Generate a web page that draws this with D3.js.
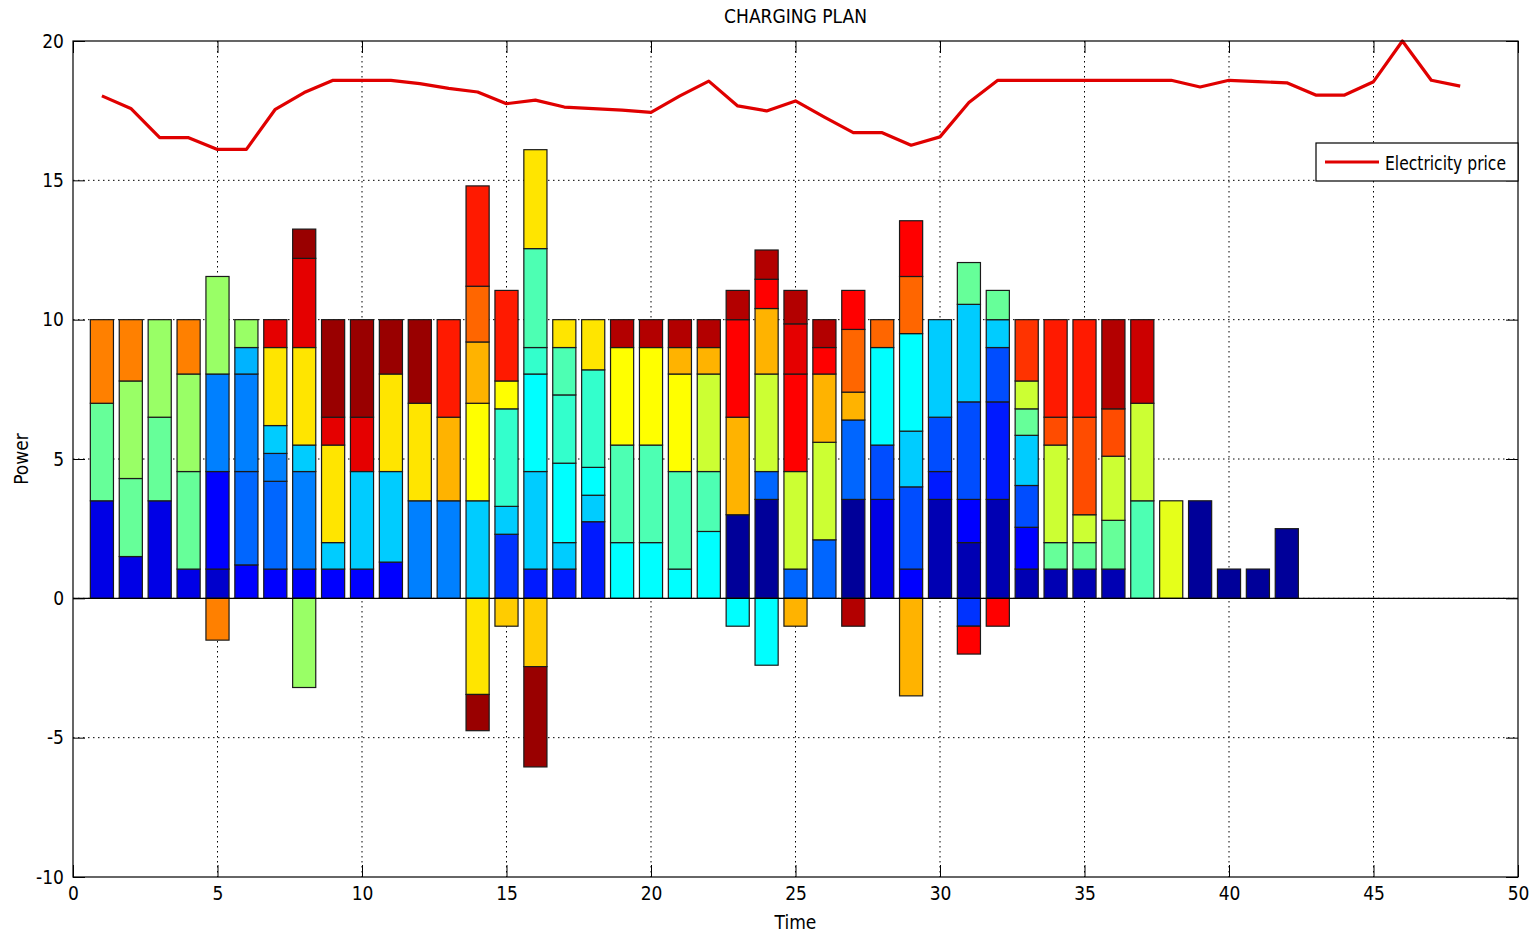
<!DOCTYPE html>
<html>
<head>
<meta charset="utf-8">
<script src="https://cdn.jsdelivr.net/npm/d3@7"></script>
<style>
  body { margin: 0; background: #fff; }
  text { font-family: "Liberation Sans Narrow", "DejaVu Sans Condensed", "Liberation Sans", Arial, sans-serif; fill: #000; }
</style>
</head>
<body>
<svg id="chart" width="1530" height="934"></svg>
<script>
// Time slots that carry bars, and the price curve slots
const barTimes = [1,2,3,4,5,6,7,8,9,10,11,12,13,14,15,16,17,18,19,20,21,
  22,23,24,25,26,27,28,29,30,31,32,33,34,35,36,37,38,39,40,41,42];
const priceTimes = [1,2,3,4,5,6,7,8,9,10,11,12,13,14,15,16,17,18,19,20,21,22,23,24,
  25,26,27,28,29,30,31,32,33,34,35,36,37,38,39,40,41,42,43,44,45,46,47,48];
const price = [18.03,17.58,16.53,16.53,16.11,16.11,17.55,18.15,18.59,18.59,
  18.59,18.47,18.3,18.17,17.75,17.88,17.63,17.57,17.52,17.44,
  18.03,18.56,17.67,17.49,17.85,17.27,16.71,16.71,16.26,16.56,
  17.79,18.59,18.59,18.59,18.59,18.59,18.59,18.59,18.35,18.59,
  18.54,18.5,18.06,18.06,18.54,20.0,18.59,18.38];

// Per time slot: [vehicle index (0..40, jet colour), power]
const positive = [
  [[4,3.5],[19,3.5],[30,3.0]],
  [[4,1.5],[19,2.8],[21,3.5],[30,2.2]],
  [[4,3.5],[19,3.0],[21,3.5]],
  [[4,1.05],[19,3.5],[21,3.5],[30,1.95]],
  [[3,1.05],[5,3.5],[10,3.5],[21,3.5]],
  [[5,1.2],[9,3.35],[10,3.5],[12,0.95],[21,1.0]],
  [[5,1.05],[9,3.15],[10,1.0],[13,1.0],[26,2.8],[36,1.0]],
  [[5,1.05],[10,3.5],[13,0.95],[26,3.5],[36,3.2],[39,1.05]],
  [[5,1.05],[13,0.95],[26,3.5],[36,1.0],[39,3.5]],
  [[5,1.05],[13,3.5],[36,1.95],[39,3.5]],
  [[5,1.3],[13,3.25],[26,3.5],[39,1.95]],
  [[10,3.5],[26,3.5],[39,3.0]],
  [[10,3.5],[28,3.0],[34,3.5]],
  [[13,3.5],[25,3.5],[28,2.2],[31,2.0],[34,3.6]],
  [[7,2.3],[13,1.0],[17,3.5],[25,1.0],[34,3.25]],
  [[6,1.05],[13,3.5],[15,3.5],[17,0.95],[18,3.55],[26,3.55]],
  [[6,1.05],[13,0.95],[15,2.85],[17,2.45],[18,1.7],[26,1.0]],
  [[6,2.75],[13,0.95],[15,1.0],[17,3.5],[26,1.8]],
  [[15,2.0],[18,3.5],[25,3.5],[38,1.0]],
  [[15,2.0],[18,3.5],[25,3.5],[38,1.0]],
  [[15,1.05],[18,3.5],[25,3.5],[28,0.95],[38,1.0]],
  [[15,2.4],[18,2.15],[23,3.5],[28,0.95],[38,1.0]],
  [[1,3.0],[28,3.5],[35,3.5],[38,1.05]],
  [[1,3.55],[9,1.0],[23,3.5],[28,2.35],[35,1.05],[38,1.05]],
  [[9,1.05],[23,3.5],[35,3.5],[36,1.8],[38,1.2]],
  [[9,2.1],[23,3.5],[28,2.45],[35,0.95],[38,1.0]],
  [[1,3.55],[9,2.85],[28,1.0],[31,2.25],[35,1.4]],
  [[4,3.55],[8,1.95],[15,3.5],[31,1.0]],
  [[5,1.05],[8,2.95],[13,2.0],[15,3.5],[31,2.05],[35,2.0]],
  [[2,3.55],[6,1.0],[8,1.95],[13,3.5]],
  [[2,2.0],[5,1.55],[8,3.5],[13,3.5],[19,1.5]],
  [[2,3.55],[6,3.5],[8,1.95],[13,1.0],[19,1.05]],
  [[2,1.05],[5,1.5],[8,1.5],[13,1.8],[19,0.95],[23,1.0],[33,2.2]],
  [[2,1.05],[19,0.95],[23,3.5],[32,1.0],[34,3.5]],
  [[2,1.05],[19,0.95],[23,1.0],[32,3.5],[34,3.5]],
  [[2,1.05],[19,1.75],[23,2.3],[32,1.7],[38,3.2]],
  [[18,3.5],[23,3.5],[37,3.0]],
  [[24,3.5]],
  [[1,3.5]],
  [[1,1.05]],
  [[1,1.05]],
  [[1,2.5]]
];
const negative = [
  [],[],[],[],
  [[30,-1.5]],
  [],[],
  [[21,-3.2]],
  [],[],[],[],[],
  [[26,-3.45],[39,-1.3]],
  [[27,-1.0]],
  [[27,-2.45],[39,-3.6]],
  [],[],[],[],[],[],
  [[15,-1.0]],
  [[15,-2.4]],
  [[28,-1.0]],
  [],
  [[38,-1.0]],
  [],
  [[28,-3.5]],
  [],
  [[7,-1.0],[35,-1.0]],
  [[35,-1.0]],
  [],[],[],[],[],[],[],[],[],[]
];

const xTicks = [0,5,10,15,20,25,30,35,40,45,50];
const yTicks = [-10,-5,0,5,10,15,20];

// MATLAB jet colormap
function jet(i) {
  const t = i / 40;
  const c = v => Math.round(255 * Math.max(0, Math.min(1, v)));
  return d3.rgb(c(1.5 - Math.abs(4 * t - 3)), c(1.5 - Math.abs(4 * t - 2)), c(1.5 - Math.abs(4 * t - 1)));
}

const svg = d3.select("#chart");
const pl = 73, pr = 1518, pt = 41, pb = 877;
const x = d3.scaleLinear().domain([0, 50]).range([pl, pr]);
const y = d3.scaleLinear().domain([-10, 20]).range([pb, pt]);

// grid
const grid = svg.append("g")
  .attr("stroke", "#000").attr("stroke-width", 1).attr("stroke-dasharray", "1.5,3.5");
grid.selectAll(".gx").data(xTicks.slice(1, -1)).enter().append("line")
  .attr("x1", d => x(d)).attr("x2", d => x(d)).attr("y1", pt).attr("y2", pb);
grid.selectAll(".gy").data(yTicks.slice(1, -1)).enter().append("line")
  .attr("y1", d => y(d)).attr("y2", d => y(d)).attr("x1", pl).attr("x2", pr);

// stacked bars
const barW = x(0.8) - x(0);
const rects = [];
barTimes.forEach((t, i) => {
  let acc = 0;
  positive[i].forEach(([k, v]) => { rects.push({ t, k, y0: acc, y1: acc + v }); acc += v; });
  acc = 0;
  negative[i].forEach(([k, v]) => { rects.push({ t, k, y0: acc, y1: acc + v }); acc += v; });
});
svg.append("g").selectAll("rect").data(rects).enter().append("rect")
  .attr("x", d => x(d.t) - barW / 2)
  .attr("width", barW)
  .attr("y", d => y(Math.max(d.y0, d.y1)))
  .attr("height", d => Math.abs(y(d.y0) - y(d.y1)))
  .attr("fill", d => jet(d.k))
  .attr("stroke", "#1a1a1a").attr("stroke-width", 1.2);

// baseline
svg.append("line").attr("x1", pl).attr("x2", pr).attr("y1", y(0)).attr("y2", y(0))
  .attr("stroke", "#000").attr("stroke-width", 1.2);

// price line
svg.append("path")
  .datum(priceTimes.map((t, i) => [t, price[i]]))
  .attr("fill", "none").attr("stroke", "#e00000").attr("stroke-width", 3.2)
  .attr("stroke-linejoin", "round")
  .attr("d", d3.line().x(d => x(d[0])).y(d => y(d[1])));

// axes (ticks inside, MATLAB style)
const fs = "19px";
const plain = d => String(d);
svg.append("g").attr("transform", `translate(0,${pb})`)
  .call(d3.axisBottom(x).tickValues(xTicks).tickFormat(plain).tickSizeInner(-12).tickSizeOuter(0).tickPadding(10))
  .call(g => g.select(".domain").remove())
  .call(g => g.selectAll("text").attr("font-size", fs).attr("font-family", null));
svg.append("g").attr("transform", `translate(0,${pt})`)
  .call(d3.axisTop(x).tickValues(xTicks).tickSizeInner(-12).tickSizeOuter(0).tickFormat(""))
  .call(g => g.select(".domain").remove());
svg.append("g").attr("transform", `translate(${pl},0)`)
  .call(d3.axisLeft(y).tickValues(yTicks).tickFormat(plain).tickSizeInner(-12).tickSizeOuter(0).tickPadding(9))
  .call(g => g.select(".domain").remove())
  .call(g => g.selectAll("text").attr("font-size", fs).attr("font-family", null));
svg.append("g").attr("transform", `translate(${pr},0)`)
  .call(d3.axisRight(y).tickValues(yTicks).tickSizeInner(-12).tickSizeOuter(0).tickFormat(""))
  .call(g => g.select(".domain").remove());
svg.append("rect").attr("x", pl).attr("y", pt).attr("width", pr - pl).attr("height", pb - pt)
  .attr("fill", "none").attr("stroke", "#000").attr("stroke-width", 1.2);

// labels
svg.append("text").attr("x", (pl + pr) / 2).attr("y", 23).attr("text-anchor", "middle")
  .attr("font-size", "19px").text("CHARGING PLAN");
svg.append("text").attr("x", (pl + pr) / 2).attr("y", 929).attr("text-anchor", "middle")
  .attr("font-size", "19px").text("Time");
svg.append("text").attr("transform", `translate(28,${(pt + pb) / 2}) rotate(-90)`)
  .attr("text-anchor", "middle").attr("font-size", "19px").text("Power");

// legend
const lg = svg.append("g");
lg.append("rect").attr("x", 1316).attr("y", 143).attr("width", 202).attr("height", 38)
  .attr("fill", "#fff").attr("stroke", "#000").attr("stroke-width", 1.2);
lg.append("line").attr("x1", 1325).attr("x2", 1379).attr("y1", 162).attr("y2", 162)
  .attr("stroke", "#e00000").attr("stroke-width", 3.2);
lg.append("text").attr("x", 1385).attr("y", 170).attr("font-size", "19px")
  .attr("textLength", 121).attr("lengthAdjust", "spacingAndGlyphs").text("Electricity price");
</script>
</body>
</html>
